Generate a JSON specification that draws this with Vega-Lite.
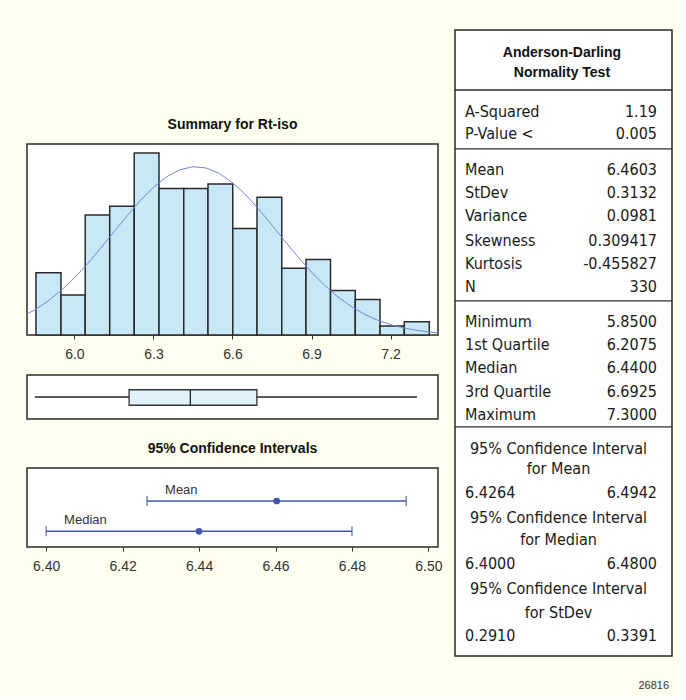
{
  "$schema": "https://vega.github.io/schema/vega-lite/v6.json",
  "background": "#fffff0",
  "padding": {"left": 26, "top": 29, "right": 5, "bottom": 5},
  "config": {
    "view": {"fill": "white", "stroke": "#2a2a2a", "strokeWidth": 1.5},
    "axis": {"grid": false, "domain": false, "labelFont": "Liberation Sans", "labelFontSize": 14, "labelColor": "#333333", "tickColor": "#333333", "tickSize": 4, "labelPadding": 8},
    "title": {"font": "Liberation Sans", "fontSize": 14, "fontWeight": "bold", "color": "#111111", "anchor": "middle", "offset": 12}
  },
  "datasets": {
    "bins": [
      {"lo": 5.854, "hi": 5.949, "count": 14},
      {"lo": 5.949, "hi": 6.041, "count": 9},
      {"lo": 6.041, "hi": 6.134, "count": 27},
      {"lo": 6.134, "hi": 6.227, "count": 29},
      {"lo": 6.227, "hi": 6.321, "count": 41},
      {"lo": 6.321, "hi": 6.415, "count": 33},
      {"lo": 6.415, "hi": 6.507, "count": 33},
      {"lo": 6.507, "hi": 6.601, "count": 34},
      {"lo": 6.601, "hi": 6.693, "count": 24},
      {"lo": 6.693, "hi": 6.787, "count": 31},
      {"lo": 6.787, "hi": 6.879, "count": 15},
      {"lo": 6.879, "hi": 6.972, "count": 17},
      {"lo": 6.972, "hi": 7.066, "count": 10},
      {"lo": 7.066, "hi": 7.160, "count": 8},
      {"lo": 7.160, "hi": 7.252, "count": 2},
      {"lo": 7.252, "hi": 7.347, "count": 3}
    ],
    "curve": [
      {"x": 5.80, "density": 4.11}, {"x": 5.85, "density": 5.67}, {"x": 5.90, "density": 7.65},
      {"x": 5.95, "density": 10.05}, {"x": 6.00, "density": 12.87}, {"x": 6.05, "density": 16.07},
      {"x": 6.10, "density": 19.57}, {"x": 6.15, "density": 23.22}, {"x": 6.20, "density": 26.84},
      {"x": 6.25, "density": 30.26}, {"x": 6.30, "density": 33.25}, {"x": 6.35, "density": 35.62},
      {"x": 6.40, "density": 37.20}, {"x": 6.45, "density": 37.88}, {"x": 6.50, "density": 37.60},
      {"x": 6.55, "density": 36.38}, {"x": 6.60, "density": 34.31}, {"x": 6.65, "density": 31.55},
      {"x": 6.70, "density": 28.28}, {"x": 6.75, "density": 24.71}, {"x": 6.80, "density": 21.05},
      {"x": 6.85, "density": 17.48}, {"x": 6.90, "density": 14.15}, {"x": 6.95, "density": 11.17},
      {"x": 7.00, "density": 8.59}, {"x": 7.05, "density": 6.44}, {"x": 7.10, "density": 4.71},
      {"x": 7.15, "density": 3.35}, {"x": 7.20, "density": 2.33}, {"x": 7.25, "density": 1.58},
      {"x": 7.30, "density": 1.04}, {"x": 7.35, "density": 0.67}, {"x": 7.40, "density": 0.42}
    ],
    "box": [{"min": 5.85, "q1": 6.2075, "median": 6.44, "q3": 6.6925, "max": 7.30}],
    "ci": [
      {"stat": "Mean", "row": 1, "lo": 6.4264, "est": 6.4603, "hi": 6.4942},
      {"stat": "Median", "row": 2, "lo": 6.40, "est": 6.44, "hi": 6.48}
    ],
    "table": [
      {"kind": "title", "a": "Anderson-Darling", "line": 1.0},
      {"kind": "title", "a": "Normality Test", "line": 1.87},
      {"kind": "div", "line": 2.61},
      {"kind": "pair", "a": "A-Squared", "b": "1.19", "line": 3.57},
      {"kind": "pair", "a": "P-Value <", "b": "0.005", "line": 4.52},
      {"kind": "div", "line": 5.17},
      {"kind": "pair", "a": "Mean", "b": "6.4603", "line": 6.09},
      {"kind": "pair", "a": "StDev", "b": "0.3132", "line": 7.09},
      {"kind": "pair", "a": "Variance", "b": "0.0981", "line": 8.09},
      {"kind": "pair", "a": "Skewness", "b": "0.309417", "line": 9.17},
      {"kind": "pair", "a": "Kurtosis", "b": "-0.455827", "line": 10.17},
      {"kind": "pair", "a": "N", "b": "330", "line": 11.17},
      {"kind": "div", "line": 11.78},
      {"kind": "pair", "a": "Minimum", "b": "5.8500", "line": 12.7},
      {"kind": "pair", "a": "1st Quartile", "b": "6.2075", "line": 13.7},
      {"kind": "pair", "a": "Median", "b": "6.4400", "line": 14.7},
      {"kind": "pair", "a": "3rd Quartile", "b": "6.6925", "line": 15.74},
      {"kind": "pair", "a": "Maximum", "b": "7.3000", "line": 16.74},
      {"kind": "div", "line": 17.26},
      {"kind": "head", "a": "95% Confidence Interval", "line": 18.22},
      {"kind": "head", "a": "for Mean", "line": 19.09},
      {"kind": "pair", "a": "6.4264", "b": "6.4942", "line": 20.13},
      {"kind": "head", "a": "95% Confidence Interval", "line": 21.22},
      {"kind": "head", "a": "for Median", "line": 22.17},
      {"kind": "pair", "a": "6.4000", "b": "6.4800", "line": 23.22},
      {"kind": "head", "a": "95% Confidence Interval", "line": 24.3},
      {"kind": "head", "a": "for StDev", "line": 25.35},
      {"kind": "pair", "a": "0.2910", "b": "0.3391", "line": 26.35},
      {"kind": "note", "a": "26816", "line": 28.52}
    ]
  },
  "hconcat": [
    {
      "vconcat": [
        {
          "width": 411, "height": 114,
          "view": {"fill": "transparent", "stroke": "transparent"},
          "data": {"values": [{"t": ""}]},
          "mark": {"type": "text"},
          "encoding": {"text": {"field": "t", "type": "nominal"}}
        },
        {
          "width": 411, "height": 191,
          "title": {"text": "Summary for Rt-iso"},
          "layer": [
            {
              "data": {"name": "bins"},
              "mark": {"type": "rect", "fill": "#c8e8f8", "stroke": "#2a2a2a", "strokeWidth": 1.5},
              "encoding": {
                "x": {"field": "lo", "type": "quantitative", "scale": {"domain": [5.82, 7.38], "nice": false, "zero": false}, "axis": {"values": [6.0, 6.3, 6.6, 6.9, 7.2], "format": ".1f", "title": null}},
                "x2": {"field": "hi"},
                "y": {"field": "count", "type": "quantitative", "scale": {"domain": [0, 43], "nice": false}, "axis": null},
                "y2": {"datum": 0}
              }
            },
            {
              "data": {"name": "curve"},
              "mark": {"type": "line", "color": "#7088d4", "strokeWidth": 1, "clip": true},
              "encoding": {
                "x": {"field": "x", "type": "quantitative", "axis": {"values": [6.0, 6.3, 6.6, 6.9, 7.2], "format": ".1f", "title": null}},
                "y": {"field": "density", "type": "quantitative", "axis": null}
              }
            }
          ]
        },
        {
          "width": 411, "height": 40,
          "view": {"fill": "transparent", "stroke": "transparent"},
          "data": {"values": [{"t": ""}]},
          "mark": {"type": "text"},
          "encoding": {"text": {"field": "t", "type": "nominal"}}
        },
        {
          "width": 411, "height": 44,
          "data": {"name": "box"},
          "layer": [
            {
              "mark": {"type": "rule", "color": "#222222", "strokeWidth": 1.3},
              "encoding": {
                "x": {"field": "min", "type": "quantitative", "scale": {"domain": [5.82, 7.38], "nice": false, "zero": false}, "axis": null},
                "x2": {"field": "max"},
                "y": {"datum": 0.5, "type": "quantitative", "scale": {"domain": [0, 1], "nice": false}, "axis": null}
              }
            },
            {
              "mark": {"type": "rect", "fill": "#e2f2fb", "stroke": "#333333", "strokeWidth": 1.3},
              "encoding": {
                "x": {"field": "q1", "type": "quantitative"},
                "x2": {"field": "q3"},
                "y": {"datum": 0.312, "type": "quantitative"},
                "y2": {"datum": 0.665}
              }
            },
            {
              "mark": {"type": "rule", "color": "#222222", "strokeWidth": 1.3},
              "encoding": {
                "x": {"field": "median", "type": "quantitative"},
                "y": {"datum": 0.312, "type": "quantitative"},
                "y2": {"datum": 0.665}
              }
            }
          ]
        },
        {
          "width": 411, "height": 49,
          "view": {"fill": "transparent", "stroke": "transparent"},
          "data": {"values": [{"t": ""}]},
          "mark": {"type": "text"},
          "encoding": {"text": {"field": "t", "type": "nominal"}}
        },
        {
          "width": 411, "height": 79,
          "title": {"text": "95% Confidence Intervals"},
          "data": {"name": "ci"},
          "layer": [
            {
              "mark": {"type": "rule", "color": "#3f55b0", "strokeWidth": 1.5},
              "encoding": {
                "x": {"field": "lo", "type": "quantitative", "scale": {"domain": [6.395, 6.5025], "nice": false, "zero": false}, "axis": {"values": [6.40, 6.42, 6.44, 6.46, 6.48, 6.50], "format": ".2f", "title": null}},
                "x2": {"field": "hi"},
                "y": {"field": "row", "type": "quantitative", "scale": {"domain": [-0.089, 2.518], "reverse": true, "nice": false, "zero": false}, "axis": null}
              }
            },
            {
              "mark": {"type": "tick", "orient": "vertical", "color": "#3f55b0", "size": 10, "thickness": 1.5},
              "encoding": {
                "x": {"field": "lo", "type": "quantitative"},
                "y": {"field": "row", "type": "quantitative"}
              }
            },
            {
              "mark": {"type": "tick", "orient": "vertical", "color": "#3f55b0", "size": 10, "thickness": 1.5},
              "encoding": {
                "x": {"field": "hi", "type": "quantitative"},
                "y": {"field": "row", "type": "quantitative"}
              }
            },
            {
              "mark": {"type": "point", "filled": true, "size": 45, "color": "#3f55b0", "opacity": 1},
              "encoding": {
                "x": {"field": "est", "type": "quantitative"},
                "y": {"field": "row", "type": "quantitative"}
              }
            },
            {
              "mark": {"type": "text", "align": "left", "baseline": "middle", "dx": 18, "dy": -11.5, "font": "Liberation Sans", "fontSize": 13, "color": "#333333"},
              "encoding": {
                "x": {"field": "lo", "type": "quantitative"},
                "y": {"field": "row", "type": "quantitative"},
                "text": {"field": "stat", "type": "nominal"}
              }
            }
          ]
        }
      ],
      "spacing": 0,
      "bounds": "flush"
    },
    {
      "width": 217, "height": 626,
      "data": {"name": "table"},
      "layer": [
        {
          "transform": [{"filter": "datum.kind == 'div'"}],
          "mark": {"type": "rule", "color": "#2a2a2a", "strokeWidth": 1.3},
          "encoding": {
            "y": {"field": "line", "type": "quantitative", "scale": {"domain": [0, 27.22], "reverse": true, "nice": false, "zero": false}, "axis": null}
          }
        },
        {
          "transform": [{"filter": "datum.kind == 'pair'"}],
          "mark": {"type": "text", "align": "left", "baseline": "middle", "font": "DejaVu Sans Condensed, DejaVu Sans", "fontSize": 16, "color": "#1a1a1a"},
          "encoding": {
            "x": {"datum": 0, "type": "quantitative", "scale": {"domain": [-0.0521, 1.0781], "nice": false, "zero": false}, "axis": null},
            "y": {"field": "line", "type": "quantitative"},
            "text": {"field": "a", "type": "nominal"}
          }
        },
        {
          "transform": [{"filter": "datum.kind == 'pair'"}],
          "mark": {"type": "text", "align": "right", "baseline": "middle", "font": "DejaVu Sans Condensed, DejaVu Sans", "fontSize": 16, "color": "#1a1a1a"},
          "encoding": {
            "x": {"datum": 1, "type": "quantitative"},
            "y": {"field": "line", "type": "quantitative"},
            "text": {"field": "b", "type": "nominal"}
          }
        },
        {
          "transform": [{"filter": "datum.kind == 'head'"}],
          "mark": {"type": "text", "align": "center", "baseline": "middle", "font": "DejaVu Sans Condensed, DejaVu Sans", "fontSize": 16, "color": "#1a1a1a"},
          "encoding": {
            "x": {"datum": 0.487, "type": "quantitative"},
            "y": {"field": "line", "type": "quantitative"},
            "text": {"field": "a", "type": "nominal"}
          }
        },
        {
          "transform": [{"filter": "datum.kind == 'title'"}],
          "mark": {"type": "text", "align": "center", "baseline": "middle", "font": "Liberation Sans", "fontWeight": "bold", "fontSize": 14, "color": "#111111"},
          "encoding": {
            "x": {"datum": 0.505, "type": "quantitative"},
            "y": {"field": "line", "type": "quantitative"},
            "text": {"field": "a", "type": "nominal"}
          }
        },
        {
          "transform": [{"filter": "datum.kind == 'note'"}],
          "mark": {"type": "text", "align": "right", "baseline": "middle", "font": "Liberation Sans", "fontSize": 11, "color": "#333333"},
          "encoding": {
            "x": {"datum": 1.0625, "type": "quantitative"},
            "y": {"field": "line", "type": "quantitative"},
            "text": {"field": "a", "type": "nominal"}
          }
        }
      ]
    }
  ],
  "spacing": 10
}
